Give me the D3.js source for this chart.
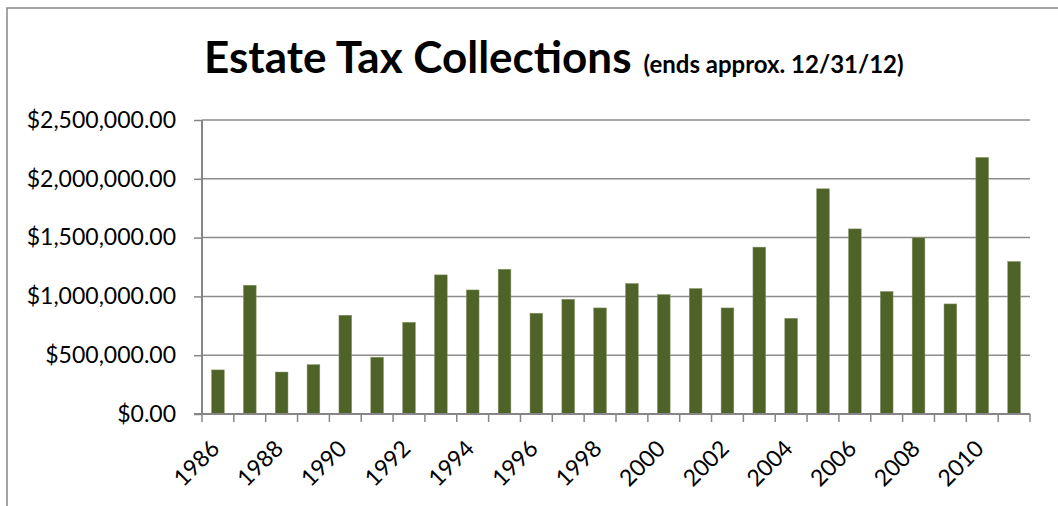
<!DOCTYPE html>
<html>
<head>
<meta charset="utf-8">
<script src="https://cdn.jsdelivr.net/npm/d3@7"></script>
<style>
  html, body { margin: 0; padding: 0; background: #fff; }
  svg { display: block; }
  text { font-family: Lato, "Open Sans", sans-serif; fill: #000; }
</style>
</head>
<body>
<svg id="chart" width="1058" height="506"></svg>
<script>
// Annual estate tax collections, in dollars
const years = ["1986","1987","1988","1989","1990","1991","1992","1993","1994","1995",
               "1996","1997","1998","1999","2000","2001","2002","2003","2004","2005",
               "2006","2007","2008","2009","2010","2011"];
const collections = [375000, 1095000, 357000, 420000, 840000, 483000, 780000, 1183000, 1055000, 1231000,
                     857000, 976000, 902000, 1110000, 1016000, 1067000, 902000, 1419000, 814000, 1915000,
                     1574000, 1042000, 1498000, 936000, 2182000, 1297000];
const yTicks = [0, 500000, 1000000, 1500000, 2000000, 2500000];
const xLabelYears = years.filter((d, i) => i % 2 === 0);

const svg = d3.select("#chart");
const plot = { left: 202, right: 1030, top: 120, bottom: 414 };

// chart frame (runs off the right and bottom edges)
svg.append("rect")
  .attr("x", 7).attr("y", 8)
  .attr("width", 1200).attr("height", 700)
  .attr("fill", "none").attr("stroke", "#868686").attr("stroke-width", 1.5);

// title
const title = svg.append("text").attr("x", 204).attr("y", 73);
title.append("tspan").attr("font-size", 44).attr("font-weight", 700).text("Estate Tax Collections");
title.append("tspan").attr("font-size", 24).attr("font-weight", 700).attr("dx", 12).text("(ends approx. 12/31/12)");

const x = d3.scaleBand().domain(years).range([plot.left, plot.right]).paddingInner(0.6).paddingOuter(0.3);
const xBounds = d3.scaleLinear().domain([0, years.length]).range([plot.left, plot.right]);
const y = d3.scaleLinear().domain([0, 2500000]).range([plot.bottom, plot.top]);

const fmt = v => "$" + d3.format(",.2f")(v);

// gridlines
svg.append("g").selectAll("line").data(yTicks.filter(d => d > 0)).join("line")
  .attr("x1", plot.left).attr("x2", plot.right)
  .attr("y1", d => y(d)).attr("y2", d => y(d))
  .attr("stroke", "#8c8c8c").attr("stroke-width", 1.5);

// bars
svg.append("g").selectAll("rect").data(collections).join("rect")
  .attr("x", (d, i) => x(years[i]))
  .attr("y", d => y(d))
  .attr("width", x.bandwidth())
  .attr("height", d => y(0) - y(d))
  .attr("fill", "#4f6228")
  .attr("stroke", "#8a9a6a").attr("stroke-width", 0.5);

// y axis
const yAxis = svg.append("g").attr("transform", `translate(${plot.left},0)`)
  .call(d3.axisLeft(y).tickValues(yTicks).tickFormat(fmt).tickSize(8).tickPadding(18));
yAxis.select(".domain").attr("stroke", "#868686").attr("stroke-width", 2).attr("d", `M0,${plot.top}V${plot.bottom}`);
yAxis.selectAll(".tick line").attr("stroke", "#868686").attr("stroke-width", 1.5);
yAxis.selectAll(".tick text").attr("font-size", 23).attr("font-family", "Lato, sans-serif").attr("fill", "#000");

// x axis: ticks on category boundaries
const xAxis = svg.append("g").attr("transform", `translate(0,${plot.bottom})`);
xAxis.append("line").attr("x1", plot.left - 8).attr("x2", plot.right)
  .attr("stroke", "#868686").attr("stroke-width", 2);
xAxis.selectAll("line.tick").data(d3.range(years.length + 1)).join("line")
  .attr("class", "tick")
  .attr("x1", d => xBounds(d)).attr("x2", d => xBounds(d))
  .attr("y1", 0).attr("y2", 8)
  .attr("stroke", "#868686").attr("stroke-width", 1.5);
xAxis.selectAll("text").data(xLabelYears).join("text")
  .attr("text-anchor", "end")
  .attr("font-size", 23)
  .attr("transform", d => `translate(${x(d) + x.bandwidth() / 2 + 3},36) rotate(-45)`)
  .text(d => d);
</script>
</body>
</html>
